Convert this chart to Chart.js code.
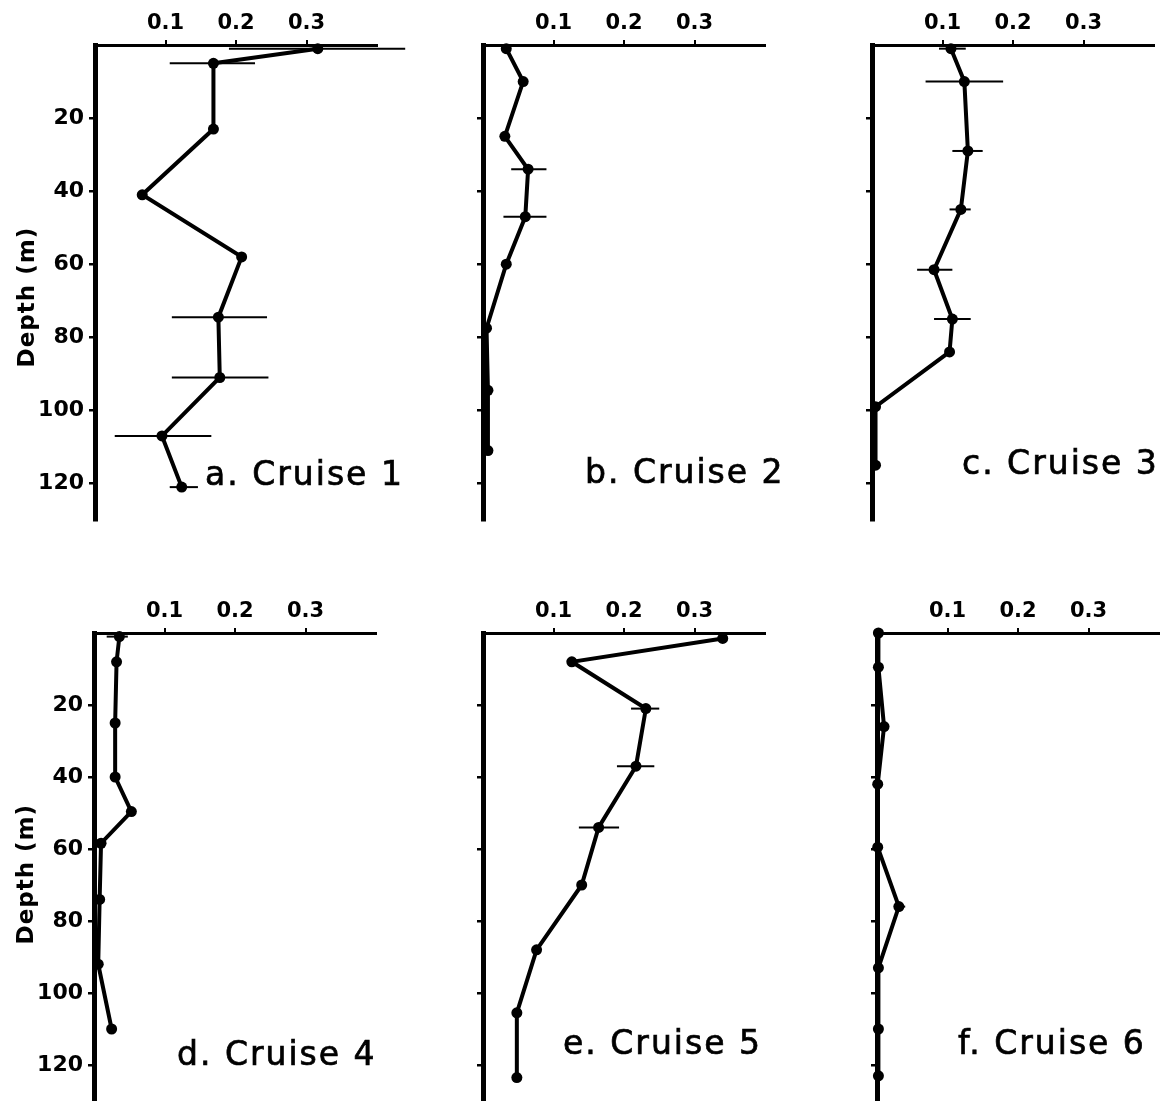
<!DOCTYPE html>
<html>
<head>
<meta charset="utf-8">
<script src="https://cdn.jsdelivr.net/npm/chart.js@4.4.1/dist/chart.umd.min.js"></script>
<style>
  body { margin: 0; background: #fff; width: 1170px; height: 1101px; position: relative; overflow: hidden; }
  canvas { position: absolute; }
</style>
</head>
<body>
<canvas id="p1"></canvas>
<canvas id="p2"></canvas>
<canvas id="p3"></canvas>
<canvas id="p4"></canvas>
<canvas id="p5"></canvas>
<canvas id="p6"></canvas>
<script>
var xTicks = [0.1, 0.2, 0.3];
var depthTicks = [20, 40, 60, 80, 100, 120];
var cruiseNames = ['a. Cruise 1', 'b. Cruise 2', 'c. Cruise 3', 'd. Cruise 4', 'e. Cruise 5', 'f. Cruise 6'];
var depthTitle = 'Depth (m)';

// depth (m), value, and horizontal error bar ends (null = no bar)
var depth1 = [1, 5, 23, 41, 58, 74.5, 91, 107, 121];
var conc1  = [0.316, 0.168, 0.168, 0.067, 0.208, 0.175, 0.177, 0.095, 0.123];
var lo1    = [0.19, 0.106, null, null, null, 0.109, 0.109, 0.028, 0.106];
var hi1    = [0.44, 0.227, null, null, null, 0.244, 0.246, 0.165, 0.146];

var depth2 = [1, 10, 25, 34, 47, 60, 77.5, 94.5, 111];
var conc2  = [0.033, 0.057, 0.031, 0.064, 0.06, 0.033, 0.005, 0.007, 0.007];
var lo2    = [null, null, null, 0.040, 0.029, null, null, null, null];
var hi2    = [null, null, null, 0.090, 0.090, null, null, null, null];

var depth3 = [1, 10, 29, 45, 61.5, 75, 84, 99, 115];
var conc3  = [0.112, 0.131, 0.136, 0.126, 0.088, 0.114, 0.11, 0.005, 0.005];
var lo3    = [0.095, 0.076, 0.114, 0.11, 0.064, 0.088, null, null, null];
var hi3    = [0.133, 0.186, 0.157, 0.14, 0.114, 0.14, null, null, null];

var depth4 = [1, 8, 25, 40, 49.6, 58.4, 74, 92, 110];
var conc4  = [0.036, 0.032, 0.03, 0.03, 0.053, 0.01, 0.008, 0.006, 0.025];
var lo4    = [0.018, null, null, null, null, null, null, null, null];
var hi4    = [0.048, null, null, null, null, null, null, null, null];

var depth5 = [1.5, 8, 21, 37, 54, 70, 88, 105.5, 123.5];
var conc5  = [0.34, 0.126, 0.231, 0.217, 0.164, 0.14, 0.076, 0.048, 0.048];
var lo5    = [null, null, 0.21, 0.19, 0.136, null, null, null, null];
var hi5    = [null, null, 0.25, 0.243, 0.193, null, null, null, null];

var depth6 = [0, 9.5, 26, 42, 59.5, 76, 93, 110, 123];
var conc6  = [0.002, 0.002, 0.01, 0.001, 0.001, 0.031, 0.002, 0.002, 0.002];
var lo6    = [null, null, null, null, null, 0.024, null, null, null];
var hi6    = [null, null, null, null, null, 0.04, null, null, null];

// panel placement: axis origin on the page, pixels per metre, label offset / depth
var panels = [
  { id: 'p1', depth: depth1, conc: conc1, lo: lo1, hi: hi1, x0: 95,  y0: 45,  ppm: 3.65, yLabels: true,  tx: 110, ty: 120.5, titleDepth: 69 },
  { id: 'p2', depth: depth2, conc: conc2, lo: lo2, hi: hi2, x0: 483, y0: 45,  ppm: 3.65, yLabels: false, tx: 102, ty: 120 },
  { id: 'p3', depth: depth3, conc: conc3, lo: lo3, hi: hi3, x0: 872, y0: 45,  ppm: 3.65, yLabels: false, tx: 90,  ty: 117.5 },
  { id: 'p4', depth: depth4, conc: conc4, lo: lo4, hi: hi4, x0: 94,  y0: 633, ppm: 3.6,  yLabels: true,  tx: 83,  ty: 120, titleDepth: 67 },
  { id: 'p5', depth: depth5, conc: conc5, lo: lo5, hi: hi5, x0: 483, y0: 633, ppm: 3.6,  yLabels: false, tx: 80,  ty: 117 },
  { id: 'p6', depth: depth6, conc: conc6, lo: lo6, hi: hi6, x0: 877, y0: 633, ppm: 3.6,  yLabels: false, tx: 81,  ty: 117 }
];

var LEFT_W = 95, TOP_H = 45, AREA_W = 282, PAD_R = 40, PAD_B = 2;

// cruise name inside the panel, and the rotated depth title on the left column
var panelLabel = {
  id: 'panelLabel',
  afterDraw: function(chart, args, opts) {
    var ctx = chart.ctx;
    var yScale = chart.scales.y;
    ctx.save();
    ctx.fillStyle = '#000';
    ctx.strokeStyle = '#000';
    ctx.lineWidth = 0.7;
    ctx.font = '33px "DejaVu Sans"';
    ctx.letterSpacing = '2px';
    ctx.textBaseline = 'alphabetic';
    var tx = chart.chartArea.left + opts.dx, ty = yScale.getPixelForValue(opts.depth);
    ctx.fillText(opts.text, tx, ty);
    ctx.strokeText(opts.text, tx, ty);
    if (opts.titleDepth != null) {
      ctx.translate(28, yScale.getPixelForValue(opts.titleDepth));
      ctx.rotate(-Math.PI / 2);
      ctx.font = 'bold 23px "DejaVu Sans"';
      ctx.letterSpacing = '1px';
      ctx.textAlign = 'center';
      ctx.textBaseline = 'middle';
      ctx.fillText(depthTitle, 0, 0);
    }
    ctx.restore();
  }
};

function noScalePadding(scale) {
  scale.paddingTop = scale.paddingBottom = scale.paddingLeft = scale.paddingRight = 0;
}

panels.forEach(function(p, k) {
  var canvas = document.getElementById(p.id);
  var areaH = Math.round(130 * p.ppm);
  canvas.width = LEFT_W + AREA_W + PAD_R;
  canvas.height = TOP_H + areaH + PAD_B;
  canvas.style.left = (p.x0 - LEFT_W) + 'px';
  canvas.style.top = (p.y0 - TOP_H) + 'px';

  var datasets = [{
    data: p.depth.map(function(d, i) { return { x: p.conc[i], y: d }; }),
    showLine: true,
    borderColor: '#000',
    borderWidth: 4,
    pointRadius: 5.5,
    pointBackgroundColor: '#000',
    pointBorderWidth: 0,
    clip: false
  }];
  p.depth.forEach(function(d, i) {
    if (p.lo[i] === null) return;
    datasets.push({
      data: [{ x: p.lo[i], y: d }, { x: p.hi[i], y: d }],
      showLine: true,
      borderColor: '#000',
      borderWidth: 2,
      pointRadius: 0,
      clip: false
    });
  });

  new Chart(canvas, {
    type: 'scatter',
    data: { datasets: datasets },
    options: {
      responsive: false,
      animation: false,
      layout: { autoPadding: false, padding: { left: 0, top: 0, right: PAD_R, bottom: PAD_B } },
      plugins: {
        legend: { display: false },
        tooltip: { enabled: false },
        panelLabel: { text: cruiseNames[k], dx: p.tx, depth: p.ty, titleDepth: p.titleDepth }
      },
      scales: {
        x: {
          type: 'linear',
          position: 'top',
          min: 0,
          max: 0.4,
          afterBuildTicks: function(scale) { scale.ticks = xTicks.map(function(v) { return { value: v }; }); },
          afterFit: function(scale) { scale.height = TOP_H; noScalePadding(scale); },
          border: { color: '#000', width: 3 },
          grid: { drawOnChartArea: false, color: '#000', lineWidth: 2, tickLength: 5 },
          ticks: {
            color: '#000',
            padding: 4,
            maxRotation: 0,
            font: { family: 'DejaVu Sans', size: 21, weight: 'bold' },
            callback: function(v) { return v.toFixed(1); }
          }
        },
        y: {
          type: 'linear',
          reverse: true,
          min: 0,
          max: 130,
          afterBuildTicks: function(scale) { scale.ticks = depthTicks.map(function(v) { return { value: v }; }); },
          afterFit: function(scale) { scale.width = LEFT_W; noScalePadding(scale); },
          border: { color: '#000', width: 5 },
          grid: { drawOnChartArea: false, color: '#000', lineWidth: 2.5, tickLength: 6 },
          ticks: {
            display: p.yLabels,
            color: '#000',
            padding: 5,
            font: { family: 'DejaVu Sans', size: 22, weight: 'bold' }
          }
        }
      }
    },
    plugins: [panelLabel]
  });
});
</script>
</body>
</html>
